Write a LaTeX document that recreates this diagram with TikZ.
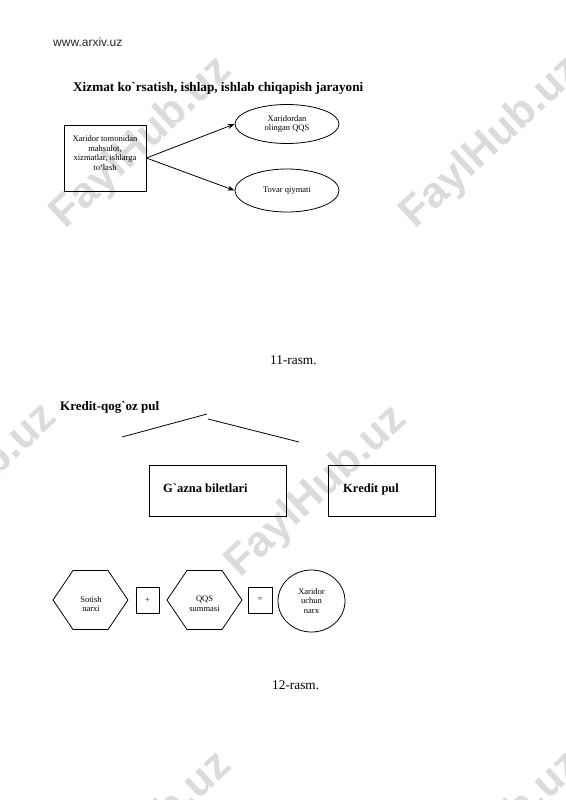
\documentclass[tikz,border=0pt]{standalone}
\usepackage{fontspec}
\setmainfont{Liberation Serif}
\newfontfamily\ser{Liberation Serif}
\newfontfamily\wsans{Liberation Sans}
\usetikzlibrary{shapes.geometric,arrows.meta}
\begin{document}
\begin{tikzpicture}[x=1pt,y=-1pt,
  wm/.style={text=black!14, font=\wsans\bfseries\fontsize{43}{43}\selectfont, rotate=43, inner sep=0pt},
  small/.style={font=\ser\fontsize{8.5}{9.6}\selectfont, align=center, inner sep=0pt},
  boxline/.style={draw, line width=0.8pt},
  arr/.style={-{Stealth[length=7pt,width=5pt]}, line width=0.8pt},
  lbl/.style={anchor=base west, inner sep=0pt}]
\useasboundingbox (0,0) rectangle (565,800);
% watermarks
\begin{scope}
\clip (0,0) rectangle (565,800);
\node[wm] (w1) at (142,143) {FaylHub.uz};
\node[wm] (w2) at (492,143) {FaylHub.uz};
\node[wm] (w3) at (-33,490) {FaylHub.uz};
\node[wm] (w4) at (317,492) {FaylHub.uz};
\node[wm] (w5) at (142,838) {FaylHub.uz};
\node[wm] (w6) at (492,838) {FaylHub.uz};
\end{scope}
% header
\node[lbl, font=\wsans\fontsize{12}{14}\selectfont, text=black!85] (site) at (53,47) {www.arxiv.uz};
\node[lbl, font=\ser\bfseries\fontsize{13.2}{15}\selectfont] (title) at (73,91) {Xizmat ko`rsatish, ishlap, ishlab chiqapish jarayoni};
% figure 11
\node[boxline, minimum width=82pt, minimum height=66pt, inner sep=0pt] (b1) at (105,158) {};
\node[small] (b1t) at (105,153) {Xaridor tomonidan\\mahsulot,\\xizmatlar, ishlarga\\to‘lash};
\node[ellipse, boxline, minimum width=104pt, minimum height=39pt, small] (e1) at (287,124) {Xaridordan\\olingan QQS};
\node[ellipse, boxline, minimum width=104pt, minimum height=43pt, small] (e2) at (287,190.5) {Tovar qiymati};
\draw[arr] (b1.east) -- (e1.west);
\draw[arr] (b1.east) -- (e2.west);
\node[lbl, font=\ser\fontsize{13.3}{15}\selectfont] (cap11) at (270,364) {11-rasm.};
% figure 12
\node[lbl, font=\ser\bfseries\fontsize{13}{15}\selectfont] (kq) at (60,410) {Kredit-qog`oz pul};
\coordinate (l1a) at (122,437);
\coordinate (l1b) at (207,414);
\coordinate (l2a) at (208,419);
\coordinate (l2b) at (299,442);
\draw[line width=0.8pt] (l1a) -- (l1b);
\draw[line width=0.8pt] (l2a) -- (l2b);
\node[boxline, minimum width=137pt, minimum height=51pt, inner sep=0pt] (gb) at (217.5,490.5) {};
\node[lbl, font=\ser\bfseries\fontsize{12.5}{15}\selectfont] (gbt) at (163,492) {G`azna biletlari};
\node[boxline, minimum width=107pt, minimum height=51pt, inner sep=0pt] (kp) at (381.5,490.5) {};
\node[lbl, font=\ser\bfseries\fontsize{12.5}{15}\selectfont] (kpt) at (343,492) {Kredit pul};
% formula
\coordinate (h1c) at (90.5,600);
\draw[boxline] (h1c) ++(-37.5,0) -- ++(20,-29.5) -- ++(35,0) -- ++(20,29.5) -- ++(-20,29.5) -- ++(-35,0) -- cycle;
\node[small] (h1) at (91,604) {Sotish\\narxi};
\node[boxline, minimum width=23pt, minimum height=26pt, small] (plus) at (147.5,600) {+};
\coordinate (h2c) at (204.5,600);
\draw[boxline] (h2c) ++(-37.5,0) -- ++(20,-29.5) -- ++(35,0) -- ++(20,29.5) -- ++(-20,29.5) -- ++(-35,0) -- cycle;
\node[small] (h2) at (204.5,604) {QQS\\summasi};
\node[boxline, minimum width=24pt, minimum height=26pt, small] (eq) at (260,600) {=};
\node[ellipse, boxline, minimum width=67pt, minimum height=62pt, small] (c1) at (311.5,601) {Xaridor\\uchun\\narx};
\node[lbl, font=\ser\fontsize{13.3}{15}\selectfont] (cap12) at (272,689) {12-rasm.};
\end{tikzpicture}
\end{document}
